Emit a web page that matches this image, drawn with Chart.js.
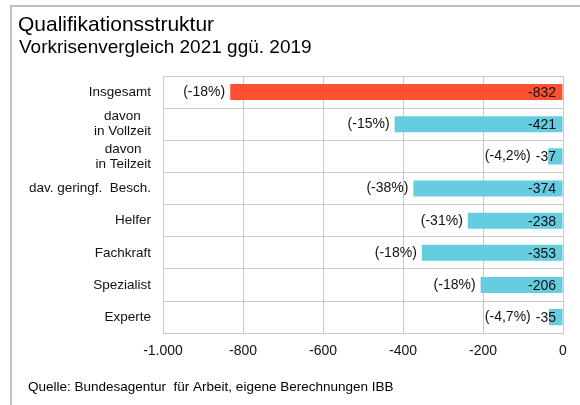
<!DOCTYPE html>
<html>
<head>
<meta charset="utf-8">
<script src="https://cdn.jsdelivr.net/npm/chart.js@4"></script>
<style>
  html, body { margin: 0; padding: 0; background: #fff; }
  #wrap { width: 580px; height: 405px; position: relative; }
</style>
</head>
<body>
<div id="wrap"><canvas id="qualChart" width="580" height="405"></canvas></div>
<script>
// Chart data
const categories = ["Insgesamt", ["davon", "in Vollzeit"], ["davon", "in Teilzeit"], "dav. geringf.  Besch.", "Helfer", "Fachkraft", "Spezialist", "Experte"];
const changeValues = [-832, -421, -37, -374, -238, -353, -206, -35];
const changePercent = ["(-18%)", "(-15%)", "(-4,2%)", "(-38%)", "(-31%)", "(-18%)", "(-18%)", "(-4,7%)"];
const xTickValues = [-1000, -800, -600, -400, -200, 0];
const xTickLabels = ["-1.000", "-800", "-600", "-400", "-200", "0"];

const titleText = "Qualifikationsstruktur";
const subtitleText = "Vorkrisenvergleich 2021 ggü. 2019";
const sourceText = "Quelle: Bundesagentur  für Arbeit, eigene Berechnungen IBB";

const RED = "#ff5033";
const CYAN = "#66cce0";
const FONT = "'Liberation Sans', Arial, sans-serif";

// Frame, title, footnote
const framePlugin = {
  id: "frame",
  beforeDraw(chart) {
    const ctx = chart.ctx;
    ctx.save();
    ctx.fillStyle = "#fff";
    ctx.fillRect(0, 0, chart.width, chart.height);
    ctx.strokeStyle = "#c0c0c0";
    ctx.lineWidth = 2;
    ctx.beginPath();
    ctx.moveTo(11, chart.height);
    ctx.lineTo(11, 6);
    ctx.lineTo(chart.width, 6);
    ctx.stroke();

    ctx.fillStyle = "#000";
    ctx.textBaseline = "middle";
    ctx.textAlign = "left";
    ctx.font = "21px " + FONT;
    ctx.fillText(titleText, 18, 25);
    ctx.font = "19px " + FONT;
    ctx.fillText(subtitleText, 19, 48);
    ctx.font = "13.5px " + FONT;
    ctx.fillText(sourceText, 28, 387);
    ctx.restore();
  }
};

// Category labels and bar labels
const labelPlugin = {
  id: "barLabels",
  afterDatasetsDraw(chart) {
    const ctx = chart.ctx;
    const x = chart.scales.x;
    const y = chart.scales.y;
    const meta = chart.getDatasetMeta(0);
    ctx.save();
    ctx.fillStyle = "#111";
    ctx.textBaseline = "middle";

    // y labels
    ctx.font = "13.5px " + FONT;
    categories.forEach((lab, i) => {
      const cy = y.getPixelForValue(i);
      const right = 151;
      if (Array.isArray(lab)) {
        const w = Math.max(...lab.map(l => ctx.measureText(l).width));
        const cx = right - w / 2;
        ctx.textAlign = "center";
        const lh = 15;
        lab.forEach((l, k) => {
          ctx.fillText(l, cx, cy + (k - (lab.length - 1) / 2) * lh);
        });
      } else {
        ctx.textAlign = "right";
        ctx.fillText(lab, right, cy);
      }
    });

    // value + percent labels
    ctx.font = "14px " + FONT;
    meta.data.forEach((bar, i) => {
      const cy = bar.y;
      const zero = x.getPixelForValue(0);
      const txt = String(changeValues[i]);
      const valRight = zero - 7;
      ctx.textAlign = "right";
      ctx.fillText(txt, valRight, cy + 1);
      const valLeft = valRight - ctx.measureText(txt).width;
      const start = Math.min(bar.x, valLeft);
      ctx.fillText(changePercent[i], start - 5, cy);
    });
    ctx.restore();
  }
};

new Chart(document.getElementById("qualChart"), {
  type: "bar",
  data: {
    labels: categories,
    datasets: [{
      data: changeValues,
      backgroundColor: changeValues.map((v, i) => i === 0 ? RED : CYAN),
      borderWidth: 0,
      barPercentage: 0.5,
      categoryPercentage: 1.0
    }]
  },
  options: {
    indexAxis: "y",
    responsive: false,
    animation: false,
    layout: { padding: { left: 163, right: 17, top: 76, bottom: 35 } },
    plugins: {
      legend: { display: false },
      tooltip: { enabled: false },
      title: { display: false }
    },
    scales: {
      x: {
        min: -1000,
        max: 0,
        afterBuildTicks(scale) {
          scale.ticks = xTickValues.map(v => ({ value: v }));
        },
        ticks: {
          callback: (v) => xTickLabels[xTickValues.indexOf(v)],
          color: "#111",
          font: { family: FONT, size: 14 },
          padding: 10
        },
        grid: { color: "#c8c8c8", lineWidth: 1, drawTicks: false },
        border: { color: "#c8c8c8" }
      },
      y: {
        offset: true,
        ticks: { display: false },
        grid: { color: "#c8c8c8", lineWidth: 1, offset: true, drawTicks: false },
        border: { color: "#c8c8c8" }
      }
    }
  },
  plugins: [framePlugin, labelPlugin]
});
</script>
</body>
</html>
